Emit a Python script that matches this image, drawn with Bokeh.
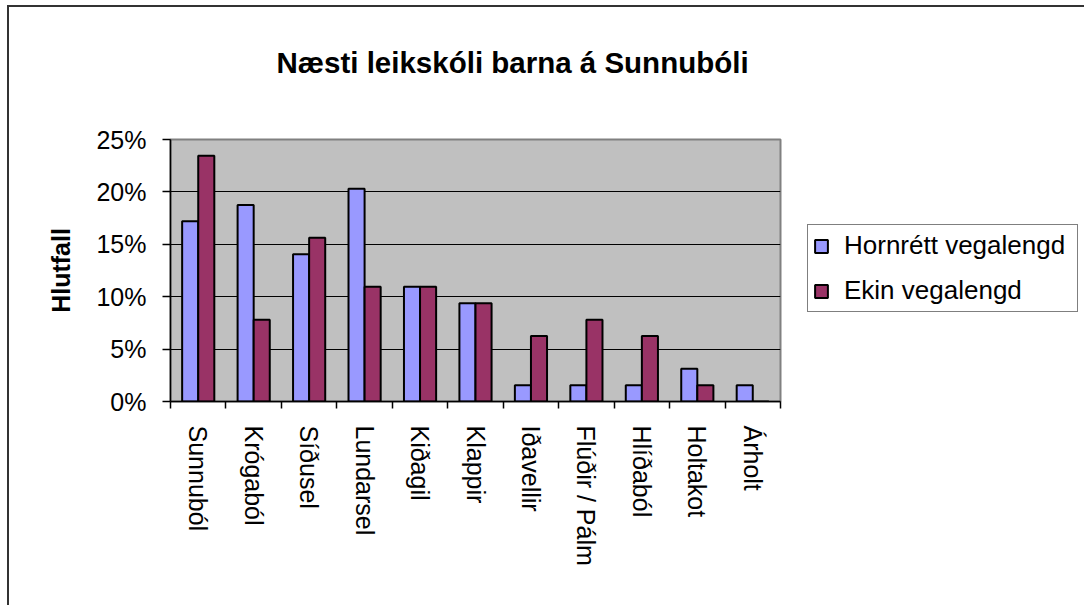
import math
from bokeh.plotting import figure
from bokeh.models import (FixedTicker, NumeralTickFormatter, CustomJSTickFormatter,
                          Legend, LegendItem, ColumnDataSource, LinearAxis)
from bokeh.transform import dodge
from bokeh.embed import file_html
from bokeh.resources import INLINE

# ---- data ----
categories = ["Sunnuból", "Krógaból", "Síðusel", "Lundarsel", "Kiðagil", "Klappir",
              "Iðavellir", "Flúðir / Pálm", "Hlíðaból", "Holtakot", "Árholt"]
hornrett = [0.1719, 0.1875, 0.1406, 0.2031, 0.1094, 0.0938, 0.0156, 0.0156, 0.0156, 0.0313, 0.0156]
ekin = [0.2344, 0.0781, 0.1563, 0.1094, 0.1094, 0.0938, 0.0625, 0.0781, 0.0625, 0.0156, 0.0]
series_names = ["Hornrétt vegalengd", "Ekin vegalengd"]
y_ticks = [0.0, 0.05, 0.10, 0.15, 0.20, 0.25]
title_text = "Næsti leikskóli barna á Sunnubóli"
y_label = "Hlutfall"

FONT = "Liberation Sans"
BLUE = "#9999FF"
RED = "#993366"

n = len(categories)
centers = [i + 0.5 for i in range(n)]
src = ColumnDataSource(dict(x=centers, h=hornrett, e=ekin))

p = figure(width=1074, height=598, x_range=(0, n), y_range=(0, 0.25),
           output_backend="svg", toolbar_location=None,
           min_border_left=161, min_border_right=303, min_border_top=132, min_border_bottom=204)
p.frame_width = 610
p.frame_height = 262
p.styles = {"border-top": "2px solid #333333", "border-left": "2px solid #333333",
            "margin-left": "7px", "margin-top": "5px"}
p.background_fill_color = "#C0C0C0"
p.border_fill_color = "white"
p.outline_line_color = "#808080"
p.outline_line_width = 2

xa = p.below[0]
ya = p.left[0]

# invisible spacer between the frame and the title
spacer = LinearAxis(ticker=FixedTicker(ticks=[0.5]),
                    formatter=CustomJSTickFormatter(code="return ''"),
                    major_tick_out=56, major_tick_in=0, major_label_standoff=0,
                    major_label_text_font_size="1px",
                    axis_line_color=None, major_tick_line_color=None,
                    minor_tick_line_color=None)
p.add_layout(spacer, "above")

p.title.text = title_text
p.title.text_font = FONT
p.title.text_font_size = "29.5px"
p.title.text_font_style = "bold"
p.title.align = "left"
p.title.offset = 106
p.title.text_color = "black"

r1 = p.vbar(x=dodge("x", -0.145, range=p.x_range), top="h", width=0.29, source=src,
            fill_color=BLUE, line_color="black", line_width=2)
r2 = p.vbar(x=dodge("x", 0.145, range=p.x_range), top="e", width=0.29, source=src,
            fill_color=RED, line_color="black", line_width=2)

# y axis
ya.ticker = FixedTicker(ticks=y_ticks)
ya.formatter = NumeralTickFormatter(format="0%")
ya.major_label_text_font = FONT
ya.major_label_text_font_size = "25px"
ya.major_label_text_color = "black"
ya.major_tick_out = 8
ya.major_tick_in = 0
ya.major_label_standoff = 16
ya.minor_tick_line_color = None
ya.axis_line_color = "black"
ya.axis_line_width = 1.5
ya.major_tick_line_color = "black"
ya.major_tick_line_width = 1.5
ya.axis_label = y_label
ya.axis_label_text_font = FONT
ya.axis_label_text_font_size = "25px"
ya.axis_label_text_font_style = "bold"
ya.axis_label_text_color = "black"
ya.axis_label_standoff = 18

# x axis: labels at centres, ticks at category boundaries
xa.ticker = FixedTicker(ticks=centers, minor_ticks=list(range(n + 1)))
xa.formatter = CustomJSTickFormatter(args=dict(names=categories),
                                     code="return names[Math.floor(tick)] || ''")
xa.major_tick_line_color = None
xa.major_tick_out = 7
xa.major_tick_in = 0
xa.minor_tick_line_color = "black"
xa.minor_tick_line_width = 1.5
xa.minor_tick_out = 7
xa.minor_tick_in = 0
xa.major_label_orientation = -math.pi / 2
xa.major_label_standoff = 17
xa.major_label_text_font = FONT
xa.major_label_text_font_size = "25px"
xa.major_label_text_color = "black"
xa.axis_line_color = "black"
xa.axis_line_width = 1.5

p.xgrid.grid_line_color = None
p.ygrid.ticker = FixedTicker(ticks=y_ticks[1:-1])
p.ygrid.grid_line_color = "black"
p.ygrid.grid_line_width = 1

legend = Legend(items=[LegendItem(label=series_names[0], renderers=[r1]),
                       LegendItem(label=series_names[1], renderers=[r2])],
                location=(27, 89))
legend.label_text_font = FONT
legend.label_text_font_size = "26px"
legend.label_text_color = "black"
legend.glyph_width = 16
legend.glyph_height = 16
legend.label_height = 29
legend.label_width = 228
legend.spacing = 14
legend.padding = 5
legend.label_standoff = 15
legend.margin = 0
legend.border_line_color = "black"
legend.border_line_width = 1
legend.background_fill_color = "white"
legend.background_fill_alpha = 1
p.add_layout(legend, "right")

open("out.html", "w").write(file_html(p, INLINE))
